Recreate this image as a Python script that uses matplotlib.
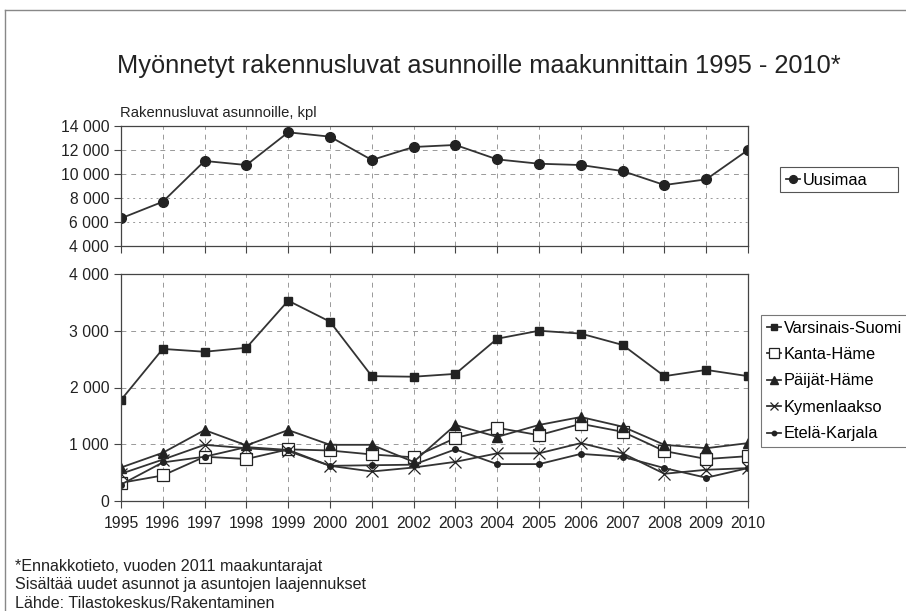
import matplotlib.pyplot as plt
from matplotlib.ticker import FuncFormatter
from matplotlib.lines import Line2D
from matplotlib.patches import Rectangle

plt.rcParams['font.family'] = ['Liberation Sans', 'DejaVu Sans']

years = list(range(1995, 2011))

uusimaa = [6300, 7680, 11070, 10730, 13450, 13090, 11150, 12230, 12400,
           11200, 10840, 10730, 10230, 9070, 9540, 11980]

varsinais_suomi = [1780, 2680, 2630, 2700, 3530, 3160, 2200, 2190, 2240,
                   2860, 3000, 2950, 2750, 2200, 2310, 2200]
kanta_hame = [320, 450, 780, 740, 910, 890, 820, 770, 1110,
              1290, 1160, 1360, 1220, 880, 740, 790]
paijat_hame = [590, 850, 1250, 980, 1250, 990, 990, 690, 1340,
               1130, 1340, 1480, 1310, 990, 930, 1020]
kymenlaakso = [480, 730, 990, 930, 880, 620, 520, 590, 690,
               840, 840, 1020, 840, 480, 550, 580]
etela_karjala = [290, 680, 780, 950, 900, 620, 630, 640, 910,
                 650, 650, 830, 780, 580, 410, 580]

lower_series = [
    ("Varsinais-Suomi", varsinais_suomi),
    ("Kanta-Häme", kanta_hame),
    ("Päijät-Häme", paijat_hame),
    ("Kymenlaakso", kymenlaakso),
    ("Etelä-Karjala", etela_karjala),
]
styles = {
    "Varsinais-Suomi": dict(marker='s', ms=6, mfc='#222222'),
    "Kanta-Häme": dict(marker='s', ms=9, mfc='white', mew=0.9),
    "Päijät-Häme": dict(marker='^', ms=7, mfc='#222222'),
    "Kymenlaakso": dict(marker='x', ms=8, mew=0.9),
    "Etelä-Karjala": dict(marker='o', ms=4, mfc='#222222'),
}

line_col = '#333333'
grid_col = '#999999'

W, H = 906, 611
fig = plt.figure(figsize=(W / 100, H / 100), dpi=100)

def box(x0, y0, x1, y1):
    return [x0 / W, 1 - y1 / H, (x1 - x0) / W, (y1 - y0) / H]

fmt = FuncFormatter(lambda v, p: f"{int(v):,}".replace(",", " "))

ax1 = fig.add_axes(box(121, 125.7, 748, 246))
ax2 = fig.add_axes(box(121, 274, 748, 501))

for ax in (ax1, ax2):
    ax.set_xlim(1995, 2010)
    ax.set_xticks(years)
    for s in ax.spines.values():
        s.set_color('#444444')
        s.set_linewidth(0.9)
    ax.tick_params(axis='both', direction='out', length=5, color='#444444',
                   labelsize=11.3, width=0.8, labelcolor='#222222')
    ax.tick_params(axis='x', pad=6)
    ax.yaxis.set_major_formatter(fmt)
    ax.xaxis.grid(True, ls=(0, (5, 5)), color=grid_col, lw=0.7)

# upper panel
ax1.set_ylim(4000, 14000)
ax1.set_yticks(range(4000, 14001, 2000))
ax1.tick_params(axis='x', labelbottom=False)
for v, ls in [(12000, (0, (5, 5))), (10000, (0, (5, 5))),
              (8000, (0, (2, 4))), (6000, (0, (2, 4)))]:
    ax1.axhline(v, color=grid_col, lw=0.7, ls=ls, zorder=0)
h_top = ax1.plot(years, uusimaa, color=line_col, lw=1.3, marker='o', ms=7,
                 mfc='#222222', mec='#222222', label='Uusimaa')

# lower panel
ax2.set_ylim(0, 4000)
ax2.set_yticks(range(0, 4001, 1000))
ax2.yaxis.grid(True, ls=(0, (5, 5)), color=grid_col, lw=0.7)
ax2.set_xticks(years)
ax2.set_xticklabels([str(y) for y in years])
h_low = []
for name, vals in lower_series:
    st = styles[name]
    h_low += ax2.plot(years, vals, color=line_col, lw=1.3, mec='#222222',
                      label=name, **st)

leg_kw = dict(loc='center left', fancybox=False, fontsize=11.8,
              handlelength=0.9, handletextpad=0.15, borderpad=0.35,
              labelspacing=0.7, borderaxespad=0, markerscale=0.8)
# top legend: frame drawn separately, it is wider than its content
fig.legend(handles=h_top, bbox_to_anchor=(780 / W, 1 - 180 / H),
           frameon=False, **leg_kw)
fig.add_artist(Rectangle((780 / W, 1 - 192 / H), 118 / W, 25 / H,
                         transform=fig.transFigure, fill=False,
                         ec='#555555', lw=0.8))
l2 = fig.legend(handles=h_low, bbox_to_anchor=(761 / W, 1 - 381 / H),
                frameon=True, **leg_kw)
l2.get_frame().set_edgecolor('#555555')
l2.get_frame().set_linewidth(0.8)

fig.text(479 / W, 1 - 66 / H, "Myönnetyt rakennusluvat asunnoille maakunnittain 1995 - 2010*",
         ha='center', va='center', fontsize=18.3, color='#222222')
fig.text(120 / W, 1 - 113 / H, "Rakennusluvat asunnoille, kpl",
         ha='left', va='center', fontsize=10.6, color='#222222')

notes = ["*Ennakkotieto, vuoden 2011 maakuntarajat",
         "Sisältää uudet asunnot ja asuntojen laajennukset",
         "Lähde: Tilastokeskus/Rakentaminen"]
for i, t in enumerate(notes):
    fig.text(15 / W, 1 - (566 + i * 18.5) / H, t, ha='left', va='center',
             fontsize=11.6, color='#222222')

# outer frame
fig.add_artist(Line2D([5 / W, 1], [1 - 10 / H] * 2, color='#888888', lw=1,
                      transform=fig.transFigure))
fig.add_artist(Line2D([5 / W] * 2, [0, 1 - 10 / H], color='#888888', lw=1,
                      transform=fig.transFigure))

fig.savefig('out.png', dpi=100)
